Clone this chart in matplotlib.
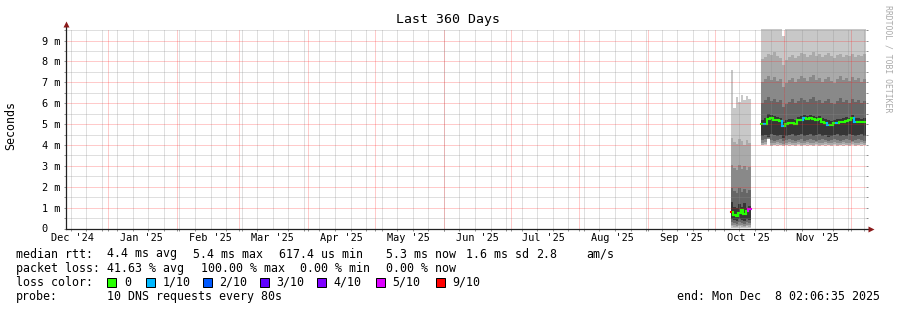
import datetime as dt

import matplotlib
matplotlib.use("Agg")
import matplotlib.dates as mdates
import matplotlib.pyplot as plt
import numpy as np
import pandas as pd
from matplotlib.collections import LineCollection
from matplotlib.patches import Rectangle


W, H = 897, 310
START = dt.datetime(2024, 12, 13, 2, 6, 35)
END = dt.datetime(2025, 12, 8, 2, 6, 35)
MONO = "DejaVu Sans Mono"

# ---- smoke data, values in ms (10 sorted pings per step + median) ----
B1_START = dt.datetime(2025, 10, 8, 4, 30)
B1_END = dt.datetime(2025, 10, 17, 4, 30)
b1_pings = [
    [0.03, 0.02, 0.01, 0.03, 0.02, 0.01, 0.03, 0.02],
    [0.10, 0.08, 0.06, 0.10, 0.08, 0.06, 0.10, 0.08],
    [0.18, 0.15, 0.12, 0.18, 0.15, 0.12, 0.18, 0.15],
    [0.30, 0.25, 0.20, 0.30, 0.25, 0.20, 0.30, 0.25],
    [0.45, 0.40, 0.35, 0.45, 0.40, 0.35, 0.45, 0.40],
    [1.25, 1.05, 1.00, 1.15, 1.05, 1.20, 1.00, 1.10],
    [1.95, 1.80, 1.70, 1.95, 1.75, 1.90, 1.70, 1.85],
    [3.05, 2.90, 2.80, 3.05, 2.85, 3.00, 2.80, 2.95],
    [4.35, 4.15, 4.05, 4.30, 4.20, 4.00, 4.25, 4.10],
    [7.60, 5.75, 6.30, 6.05, 6.40, 6.15, 6.35, 6.20],
]
b1_median = [0.80, 0.65, 0.60, 0.75, 0.90, 0.70, 0.85, 0.95]
b1_loss = [6, 0, 0, 0, 0, 0, 0, 5]

B2_START = dt.datetime(2025, 10, 21, 16, 30)
b2_pings = [
    [3.98, 3.98, 4.30, 3.97, 3.98, 3.97, 3.98, 3.96, 3.98, 3.97, 3.98, 3.97,
     3.98, 3.97, 3.98, 3.97, 3.98, 3.97, 3.98, 3.97, 3.98, 3.97, 3.98, 3.97,
     3.98, 3.97, 3.98, 3.97, 3.98, 3.97, 3.98, 3.97, 3.98, 3.97, 3.98],
    [4.00, 4.05, 4.30, 4.00, 4.02, 4.05, 4.00, 3.98, 4.02, 4.05, 4.00, 4.02,
     4.05, 4.00, 4.02, 4.05, 4.00, 4.02, 4.05, 4.00, 4.02, 4.05, 4.00, 4.02,
     4.05, 4.00, 4.02, 4.05, 4.00, 4.02, 4.05, 4.00, 4.02, 4.05, 4.00],
    [4.10, 4.15, 4.30, 4.10, 4.10, 4.15, 4.10, 4.05, 4.10, 4.15, 4.10, 4.10,
     4.15, 4.10, 4.10, 4.15, 4.10, 4.10, 4.15, 4.10, 4.10, 4.15, 4.10, 4.10,
     4.15, 4.10, 4.10, 4.15, 4.10, 4.10, 4.15, 4.10, 4.10, 4.15, 4.10],
    [4.25, 4.30, 4.35, 4.25, 4.20, 4.25, 4.30, 4.20, 4.25, 4.30, 4.25, 4.20,
     4.25, 4.30, 4.20, 4.25, 4.30, 4.25, 4.20, 4.25, 4.30, 4.25, 4.20, 4.25,
     4.30, 4.25, 4.20, 4.25, 4.30, 4.25, 4.20, 4.25, 4.30, 4.25, 4.20],
    [4.45, 4.50, 4.40, 4.55, 4.50, 4.45, 4.50, 4.35, 4.45, 4.50, 4.55, 4.45,
     4.50, 4.55, 4.45, 4.50, 4.55, 4.45, 4.50, 4.55, 4.45, 4.50, 4.40, 4.45,
     4.50, 4.55, 4.45, 4.50, 4.45, 4.55, 4.50, 4.45, 4.50, 4.55, 4.45],
    [5.20, 5.30, 5.50, 5.45, 5.40, 5.35, 5.30, 5.10, 5.20, 5.25, 5.25, 5.20,
     5.35, 5.40, 5.45, 5.40, 5.45, 5.40, 5.35, 5.40, 5.30, 5.25, 5.20, 5.15,
     5.20, 5.25, 5.25, 5.30, 5.35, 5.30, 5.45, 5.30, 5.30, 5.25, 5.30],
    [6.00, 6.15, 6.30, 6.10, 6.20, 6.05, 6.15, 5.80, 5.95, 6.05, 6.20, 6.00,
     6.10, 6.25, 6.15, 6.05, 6.20, 6.30, 6.10, 6.15, 6.00, 6.10, 6.20, 6.00,
     5.95, 6.10, 6.25, 6.05, 6.15, 6.00, 6.20, 6.05, 6.15, 6.00, 6.10],
    [7.00, 7.15, 7.30, 7.10, 7.25, 7.05, 7.15, 6.80, 6.95, 7.10, 7.20, 7.00,
     7.15, 7.30, 7.20, 7.05, 7.25, 7.35, 7.10, 7.20, 7.00, 7.15, 7.25, 7.05,
     6.95, 7.15, 7.30, 7.10, 7.20, 7.05, 7.25, 7.10, 7.20, 7.00, 7.15],
    [8.10, 8.20, 8.35, 8.30, 8.45, 8.25, 8.15, 7.85, 8.05, 8.20, 8.30, 8.15,
     8.25, 8.40, 8.35, 8.20, 8.30, 8.45, 8.25, 8.35, 8.20, 8.30, 8.40, 8.25,
     8.15, 8.30, 8.35, 8.20, 8.30, 8.25, 8.35, 8.20, 8.30, 8.25, 8.35],
    [9.90, 9.90, 9.90, 9.90, 9.90, 9.90, 9.80, 9.20, 9.90, 9.90, 9.90, 9.90,
     9.90, 9.90, 9.90, 9.90, 9.90, 9.90, 9.90, 9.90, 9.90, 9.90, 9.90, 9.90,
     9.90, 9.90, 9.90, 9.90, 9.90, 9.90, 9.90, 9.90, 9.90, 9.90, 9.90],
]
b2_median = [5.00, 5.02, 5.25, 5.28, 5.22, 5.18, 5.15, 4.92, 5.00, 5.03, 5.05, 5.02,
             5.18, 5.22, 5.28, 5.25, 5.27, 5.25, 5.22, 5.25, 5.12, 5.05, 4.98, 4.95,
             5.03, 5.05, 5.08, 5.12, 5.15, 5.18, 5.30, 5.12, 5.10, 5.08, 5.12]
b2_loss = [0, 1, 0, 0, 0, 0, 0, 1, 0, 0, 0, 0, 0, 0, 1, 0, 0, 0, 0, 0, 0, 0,
           1, 0, 0, 1, 0, 0, 0, 0, 0, 1, 0, 0, 0]

SMOKE_COLORS = ["#c8c8c8", "#aaaaaa", "#898989", "#666666", "#363636"]
LOSS_COLORS = ["#26ff00", "#00b8ff", "#0059ff", "#5e00ff", "#7e00ff", "#dd00ff", "#ff0000"]
LOSS_LABELS = ["0", "1/10", "2/10", "3/10", "4/10", "5/10", "9/10"]

MONTH_LABELS = ["Dec '24", "Jan '25", "Feb '25", "Mar '25", "Apr '25", "May '25",
                "Jun '25", "Jul '25", "Aug '25", "Sep '25", "Oct '25", "Nov '25"]
Y_TICKS = [0, 1, 2, 3, 4, 5, 6, 7, 8, 9]


def fx(px):
    return px / W


def fy(py):
    return 1 - py / H


def draw_block(ax, edges, pings, median, loss):
    edges = mdates.date2num(edges)
    n = len(pings)
    for i in range(n // 2):
        lo = np.append(pings[i], pings[i][-1])
        hi = np.append(pings[n - 1 - i], pings[n - 1 - i][-1])
        ax.fill_between(edges, lo, hi, step="post", color=SMOKE_COLORS[i],
                        linewidth=0, zorder=2)
    segs, cols = [], []
    for k, m in enumerate(median):
        segs.append([(edges[k], m), (edges[k + 1], m)])
        cols.append(LOSS_COLORS[loss[k]])
        if k > 0:
            segs.append([(edges[k], median[k - 1]), (edges[k], m)])
            cols.append(LOSS_COLORS[loss[k]])
    ax.add_collection(LineCollection(segs, colors=cols, linewidths=1.5,
                                     capstyle="projecting", zorder=3))


def main():
    fig = plt.figure(figsize=(W / 100, H / 100), dpi=100, facecolor="white")
    ax = fig.add_axes([fx(66.3), fy(228.5), 800 / W, 200 / H])
    ax.set_xlim(mdates.date2num(START), mdates.date2num(END))
    ax.set_ylim(0, 9.58)
    for s in ax.spines.values():
        s.set_visible(False)

    b1_edges = pd.date_range(B1_START, B1_END, periods=len(b1_median) + 1).to_pydatetime()
    b2_edges = pd.date_range(B2_START, END, periods=len(b2_median) + 1).to_pydatetime()
    draw_block(ax, b1_edges, b1_pings, b1_median, b1_loss)
    draw_block(ax, b2_edges, b2_pings, b2_median, b2_loss)

    # dotted grid, drawn over the smoke like rrdtool does
    dot = (0, (1, 1))
    grid_gray = (0.55, 0.55, 0.55, 0.55)
    grid_red = (1.0, 0.1, 0.1, 0.45)
    months = pd.date_range("2025-01-01", END, freq="MS").to_pydatetime()
    sundays = pd.date_range("2024-12-15", END, freq="W-SUN").to_pydatetime()
    for d in sundays:
        ax.axvline(mdates.date2num(d), color=grid_gray, lw=0.72, ls=dot, zorder=5)
    for d in months:
        ax.axvline(mdates.date2num(d), color=grid_red, lw=0.72, ls=dot, zorder=5)
    for v in np.arange(0.5, 9.6, 1.0):
        ax.axhline(v, color=grid_gray, lw=0.72, ls=dot, zorder=5)
    for v in Y_TICKS[1:]:
        ax.axhline(v, color=grid_red, lw=0.72, ls=dot, zorder=5)

    # ticks
    ax.set_yticks(Y_TICKS)
    ax.set_yticklabels(["0  "] + [f"{v} m" for v in Y_TICKS[1:]], fontfamily=MONO,
                       fontsize=7.4)
    ax.set_yticks(np.arange(0.5, 9.6, 1.0), minor=True)
    ax.tick_params(axis="y", which="both", left=True, right=True, direction="out",
                   length=1.5, width=0.72, color="#909090", pad=3)
    label_pos = [dt.datetime(2024, 12, 16)] + [d.replace(day=16) for d in months[:-1]]
    ax.set_xticks(mdates.date2num(label_pos))
    ax.set_xticklabels(MONTH_LABELS, fontfamily=MONO, fontsize=7.4)
    ax.set_xticks(mdates.date2num(list(sundays) + list(months)), minor=True)
    ax.tick_params(axis="x", which="major", length=0, pad=3)
    ax.tick_params(axis="x", which="minor", direction="out", length=1.5, width=0.72,
                   color="#909090")

    # axes with arrows
    ax.plot([0, 1.005], [0, 0], transform=ax.transAxes, color="#222222", lw=0.9,
            clip_on=False, zorder=6)
    ax.plot([0, 0], [0, 1.02], transform=ax.transAxes, color="#222222", lw=0.9,
            clip_on=False, zorder=6)
    ax.plot([1.006], [0], transform=ax.transAxes, marker=">", ms=4, color="#8b1a1a",
            mec="none", clip_on=False, zorder=7)
    ax.plot([0], [1.025], transform=ax.transAxes, marker="^", ms=4, color="#8b1a1a",
            mec="none", clip_on=False, zorder=7)

    # texts
    fig.text(fx(447.5), fy(19), "Last 360 Days", ha="center", va="center",
             fontfamily=MONO, fontsize=9.5)
    fig.text(fx(11), fy(126), "Seconds", rotation=90, ha="center", va="center",
             fontfamily=MONO, fontsize=8.4)
    fig.text(fx(887.5), fy(59), "RRDTOOL / TOBI OETIKER", rotation=270, ha="center",
             va="center", fontfamily=MONO, fontsize=5.9, color="#aaaaaa")

    fs = 8.4
    legend = [
        (254, [(16, "median rtt:"), (107.3, "4.4 ms avg"), (193.3, "5.4 ms max"),
               (279.3, "617.4 us min"), (386, "5.3 ms now"), (465.7, "1.6 ms sd"),
               (536, "2.8"), (586.7, "am/s")]),
        (268.3, [(16, "packet loss:"), (107.3, "41.63 % avg"), (201, "100.00 % max"),
                 (300, "0.00 % min"), (386, "0.00 % now")]),
        (282, [(16, "loss color:")]),
        (296.7, [(16, "probe:"), (107.3, "10 DNS requests every 80s")]),
    ]
    for py, items in legend:
        for px, txt in items:
            fig.text(fx(px), fy(py), txt, ha="left", va="center", fontfamily=MONO,
                     fontsize=fs)
    fig.text(fx(880), fy(296.7), "end: Mon Dec  8 02:06:35 2025", ha="right",
             va="center", fontfamily=MONO, fontsize=fs)

    box_x = [107.3, 145.7, 202.7, 260, 317.3, 376, 436]
    for bx, col, lab in zip(box_x, LOSS_COLORS, LOSS_LABELS):
        fig.patches.append(Rectangle((fx(bx), fy(286.5)), 9 / W, 9 / H,
                                     transform=fig.transFigure, facecolor=col,
                                     edgecolor="black", lw=0.72))
        fig.text(fx(bx + 16.5), fy(282), lab, ha="left", va="center",
                 fontfamily=MONO, fontsize=fs)

    fig.savefig("out.png", dpi=100, facecolor="white")
    plt.close(fig)


if __name__ == "__main__":
    main()
